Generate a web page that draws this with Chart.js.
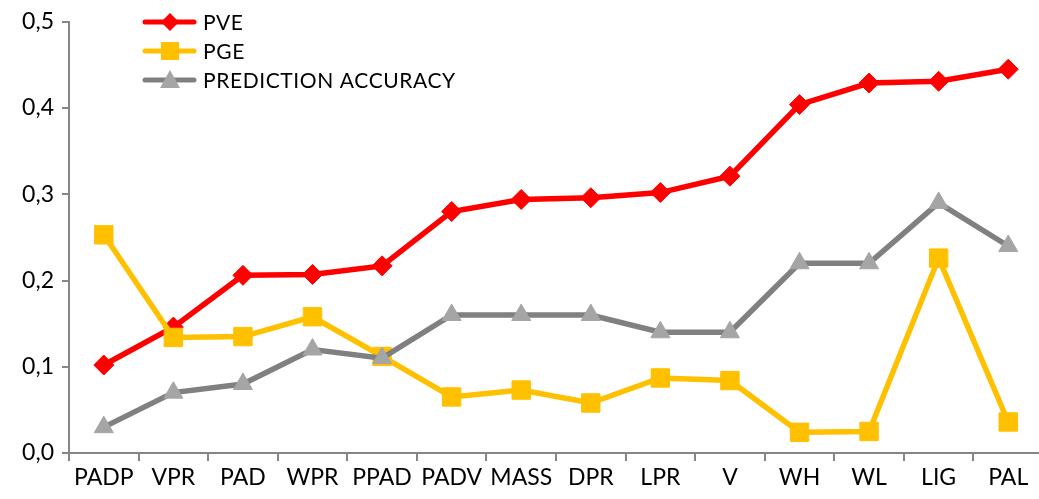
<!DOCTYPE html>
<html>
<head>
<meta charset="utf-8">
<script src="https://cdn.jsdelivr.net/npm/chart.js@4.4.0/dist/chart.umd.min.js"></script>
<style>
  html, body { margin: 0; padding: 0; background: #fff; overflow: hidden; }
  #wrap { width: 1057px; height: 499px; }
</style>
</head>
<body>
<div id="wrap"><canvas id="grafico" width="1057" height="499"></canvas></div>
<script>
// categorías y valores
const categorias = ['PADP', 'VPR', 'PAD', 'WPR', 'PPAD', 'PADV', 'MASS', 'DPR', 'LPR', 'V', 'WH', 'WL', 'LIG', 'PAL'];
const pve = [0.102, 0.146, 0.206, 0.207, 0.217, 0.280, 0.294, 0.296, 0.302, 0.321, 0.404, 0.429, 0.431, 0.445];
const pge = [0.253, 0.134, 0.135, 0.158, 0.112, 0.065, 0.073, 0.058, 0.087, 0.084, 0.024, 0.025, 0.226, 0.036];
const precision = [0.03, 0.07, 0.08, 0.12, 0.11, 0.16, 0.16, 0.16, 0.14, 0.14, 0.22, 0.22, 0.29, 0.24];
const etiquetasY = ['0,0', '0,1', '0,2', '0,3', '0,4', '0,5'];

const fuente = 'Lato, "Open Sans", sans-serif';
const gris = '#868686';

// leyenda dibujada a mano dentro del área
const leyendaPlugin = {
    id: 'leyendaManual',
    afterDraw(chart) {
        const ctx = chart.ctx;
        const filas = [
            { texto: 'PVE', linea: '#FF0000', marca: '#FF0000', forma: 'diamante', y: 22 },
            { texto: 'PGE', linea: '#FFC000', marca: '#FFC000', forma: 'cuadrado', y: 51 },
            { texto: 'PREDICTION ACCURACY', linea: '#808080', marca: '#A5A5A5', forma: 'triangulo', y: 80 }
        ];
        ctx.save();
        filas.forEach(f => {
            ctx.strokeStyle = f.linea;
            ctx.lineWidth = 5;
            ctx.lineCap = 'round';
            ctx.beginPath();
            ctx.moveTo(145, f.y);
            ctx.lineTo(194, f.y);
            ctx.stroke();
            ctx.fillStyle = f.marca;
            ctx.beginPath();
            const cx = 170, cy = f.y;
            if (f.forma === 'diamante') {
                ctx.moveTo(cx, cy - 9); ctx.lineTo(cx + 9, cy); ctx.lineTo(cx, cy + 9); ctx.lineTo(cx - 9, cy);
            } else if (f.forma === 'cuadrado') {
                ctx.rect(cx - 9, cy - 9, 18, 18);
            } else {
                ctx.moveTo(cx, cy - 10); ctx.lineTo(cx + 10, cy + 8); ctx.lineTo(cx - 10, cy + 8);
            }
            ctx.closePath();
            ctx.fill();
            ctx.fillStyle = '#000';
            ctx.font = '21px ' + fuente;
            ctx.letterSpacing = '0.6px';
            ctx.textBaseline = 'middle';
            ctx.textAlign = 'left';
            ctx.fillText(f.texto, 203, f.y + 1);
        });
        ctx.restore();
    }
};

new Chart(document.getElementById('grafico'), {
    type: 'line',
    data: {
        labels: categorias,
        datasets: [
            {
                label: 'PVE', data: pve, order: 3,
                borderColor: '#FF0000', borderWidth: 5.5,
                pointStyle: 'rectRot', pointRadius: 10,
                pointBackgroundColor: '#FF0000', pointBorderColor: '#FF0000', pointBorderWidth: 1
            },
            {
                label: 'PGE', data: pge, order: 2,
                borderColor: '#FFC000', borderWidth: 5.5,
                pointStyle: 'rect', pointRadius: 13,
                pointBackgroundColor: '#FFC000', pointBorderColor: '#FFC000', pointBorderWidth: 1
            },
            {
                label: 'PREDICTION ACCURACY', data: precision, order: 1,
                borderColor: '#808080', borderWidth: 5.5,
                pointStyle: 'triangle', pointRadius: 11,
                pointBackgroundColor: '#A5A5A5', pointBorderColor: '#A5A5A5', pointBorderWidth: 1
            }
        ]
    },
    options: {
        responsive: false,
        animation: false,
        layout: { padding: { top: 17, left: 0, right: 0, bottom: 0 } },
        plugins: {
            legend: { display: false },
            tooltip: { enabled: false }
        },
        scales: {
            x: {
                offset: true,
                grid: { offset: true, drawOnChartArea: false, drawTicks: true, tickLength: 8, color: gris, lineWidth: 2 },
                border: { display: true, color: gris, width: 2 },
                ticks: { color: '#000', font: { family: fuente, size: 23 }, padding: 3, maxRotation: 0, autoSkip: false },
                afterFit(scale) { scale.height = 46; }
            },
            y: {
                min: 0, max: 0.5,
                grid: { drawOnChartArea: false, drawTicks: true, tickLength: 7, color: gris, lineWidth: 2 },
                border: { display: true, color: gris, width: 2 },
                ticks: {
                    stepSize: 0.1, color: '#000', font: { family: fuente, size: 23 }, padding: 8,
                    callback: (v, i) => etiquetasY[i]
                },
                afterFit(scale) { scale.width = 69; }
            }
        }
    },
    plugins: [leyendaPlugin]
});
</script>
</body>
</html>
